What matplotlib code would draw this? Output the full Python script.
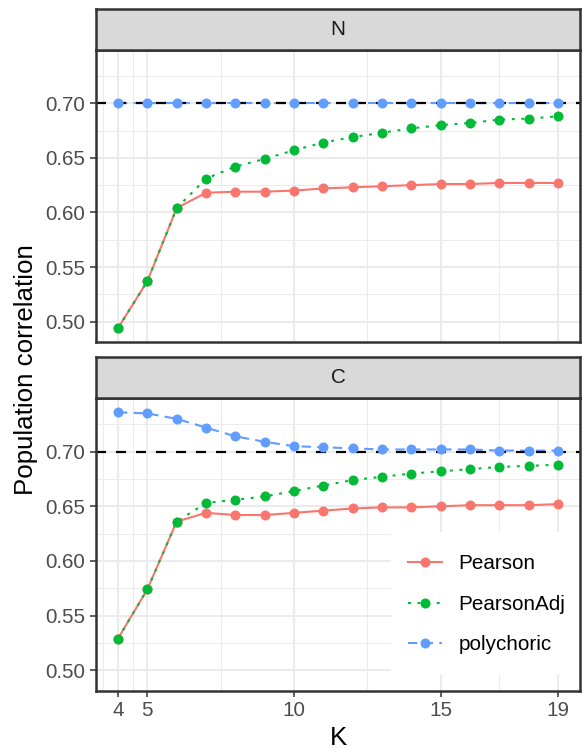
import matplotlib
matplotlib.use('Agg')
import matplotlib.pyplot as plt
from matplotlib.patches import Rectangle
from matplotlib.ticker import FixedLocator

plt.rcParams['font.family'] = ['Liberation Sans', 'DejaVu Sans']

K = [4, 5, 6, 7, 8, 9, 10, 11, 12, 13, 14, 15, 16, 17, 18, 19]
facets = ['N', 'C']
series = ['Pearson', 'PearsonAdj', 'polychoric']

n_pearson = [0.494, 0.537, 0.604, 0.618, 0.619, 0.619, 0.620, 0.622,
             0.623, 0.624, 0.625, 0.626, 0.626, 0.627, 0.627, 0.627]
n_adj = [0.494, 0.537, 0.604, 0.631, 0.642, 0.649, 0.657, 0.664,
         0.669, 0.673, 0.677, 0.680, 0.682, 0.685, 0.686, 0.688]
n_poly = [0.700, 0.700, 0.700, 0.700, 0.700, 0.700, 0.700, 0.700,
          0.700, 0.700, 0.700, 0.700, 0.700, 0.700, 0.700, 0.700]

c_pearson = [0.529, 0.574, 0.636, 0.644, 0.642, 0.642, 0.644, 0.646,
             0.648, 0.649, 0.649, 0.650, 0.651, 0.651, 0.651, 0.652]
c_adj = [0.529, 0.574, 0.636, 0.653, 0.656, 0.659, 0.664, 0.669,
         0.674, 0.677, 0.680, 0.682, 0.684, 0.686, 0.687, 0.688]
c_poly = [0.736, 0.735, 0.730, 0.722, 0.714, 0.709, 0.705, 0.704,
          0.703, 0.702, 0.702, 0.702, 0.702, 0.701, 0.701, 0.701]

true_value = 0.70
x_ticks = [4, 5, 10, 15, 19]
x_minor = [3.5, 4.5, 7.5, 12.5, 17]
y_ticks = [0.50, 0.55, 0.60, 0.65, 0.70]
y_minor = [0.525, 0.575, 0.625, 0.675, 0.725]

data = {
    'N': [n_pearson, n_adj, n_poly],
    'C': [c_pearson, c_adj, c_poly],
}
colors = ['#F8766D', '#00BA38', '#619CFF']
styles = ['-', (0, (1.4, 3.2)), (0, (4.5, 3.0))]

fig = plt.figure(figsize=(5.82, 7.49), dpi=100)
W, H = 582, 749
left, right = 96, 580
panels = {'N': (50, 342), 'C': (398.3, 690.7)}
strips = {'N': (9, 50), 'C': (356.7, 398.3)}

dark = '#333333'
axes = {}
for name in facets:
    top, bot = panels[name]
    ax = fig.add_axes([left / W, 1 - bot / H, (right - left) / W, (bot - top) / H])
    axes[name] = ax
    ax.set_xlim(3.25, 19.75)
    ax.set_ylim(0.4813, 0.7488)
    ax.set_axisbelow(True)
    ax.xaxis.set_major_locator(FixedLocator(x_ticks))
    ax.xaxis.set_minor_locator(FixedLocator(x_minor))
    ax.yaxis.set_major_locator(FixedLocator(y_ticks))
    ax.yaxis.set_minor_locator(FixedLocator(y_minor))
    ax.set_yticklabels([f'{v:.2f}' for v in y_ticks])
    ax.grid(which='major', color='#EBEBEB', lw=1.5)
    ax.grid(which='minor', color='#EBEBEB', lw=0.75)
    ax.tick_params(which='minor', length=0)
    ax.tick_params(which='major', length=4.6, width=1.1, color=dark,
                   labelsize=14.9, labelcolor='#4D4D4D', pad=3)
    for sp in ax.spines.values():
        sp.set_color(dark)
        sp.set_linewidth(1.8)

    for vals, col, ls, lab in zip(data[name], colors, styles, series):
        ax.plot(K, vals, color=col, lw=1.5, linestyle=ls, zorder=2)
    ax.axhline(true_value, color='black', lw=1.6, linestyle=(0, (4.5, 4.5)), zorder=2.5)
    for vals, col in zip(data[name], colors):
        ax.plot(K, vals, 'o', color=col, ms=7.2, zorder=3, mec='none')

    stop, sbot = strips[name]
    sax = fig.add_axes([left / W, 1 - sbot / H, (right - left) / W, (sbot - stop) / H])
    sax.set_facecolor('#D9D9D9')
    sax.set_xticks([])
    sax.set_yticks([])
    for sp in sax.spines.values():
        sp.set_color(dark)
        sp.set_linewidth(1.8)
    sax.text(0.5, 0.5, name, ha='center', va='center', fontsize=14.9,
             color='#1A1A1A', transform=sax.transAxes)

axes['N'].tick_params(axis='x', which='both', length=0, labelbottom=False)

ax = axes['C']
# white legend background covering the grid
ax.add_patch(Rectangle((0.6095, 0.0537), 0.39, 0.489, transform=ax.transAxes,
                       facecolor='white', edgecolor='none', zorder=1))
handles = [plt.Line2D([], [], color=c, lw=1.5, linestyle=s, marker='o', ms=7.2, mec='none')
           for c, s in zip(colors, styles)]
ax.legend(handles, series, loc='upper left', bbox_to_anchor=(0.6446, 0.466),
          frameon=False, fontsize=14.9, borderpad=0, borderaxespad=0,
          handlelength=1.64, handletextpad=0.8, labelspacing=1.04)

fig.text(26 / W, 1 - 370 / H, 'Population correlation', rotation=90,
         ha='center', va='center', fontsize=18.6, color='black')
fig.text((left + right) / 2 / W, 1 - 738 / H, 'K', ha='center', va='center',
         fontsize=18.6, color='black')

fig.savefig('out.png', dpi=100)
